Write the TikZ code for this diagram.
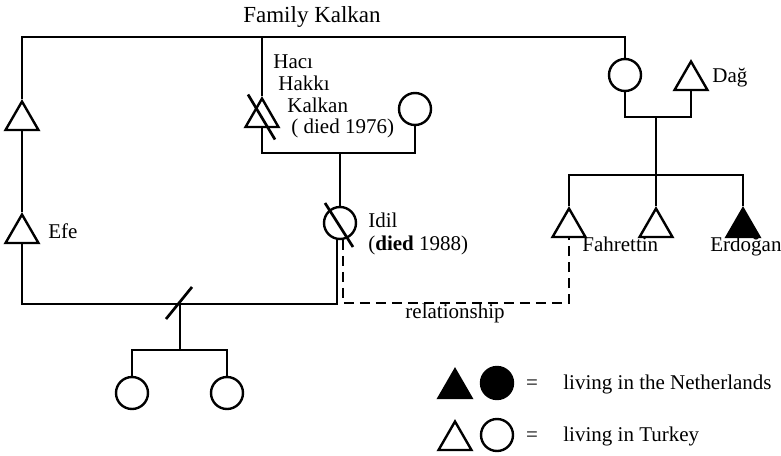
\documentclass[tikz,border=0pt]{standalone}
\usepackage{fontspec}
\setmainfont{Liberation Serif}
\usetikzlibrary{shapes.geometric}
\begin{document}
\begin{tikzpicture}[x=0.5pt,y=-0.5pt,font=\fontsize{10.5}{12.6}\selectfont]
    \tikzstyle{man}=[regular polygon, regular polygon sides=3, draw, minimum size=19pt, inner sep=0pt, line width=1.2pt]
    \tikzstyle{woman}=[circle, draw, minimum size=16pt, inner sep=0pt, line width=1.2pt]
    \tikzstyle{nl}=[fill=black]
    \tikzstyle{line}=[line width=1.35pt]
    \tikzstyle{lbl}=[anchor=base west, inner sep=0pt]

    \useasboundingbox (0,0) rectangle (781,455);

    % family members
    \node[man] (uncle) at (22,120.5) {};
    \node[man] (efe) at (22,233.5) {};
    \node[man] (haci) at (262,117.5) {};
    \node[woman] (hwife) at (415,109) {};
    \node[woman] (idil) at (340,223) {};
    \node[woman] (d1) at (132,393) {};
    \node[woman] (d2) at (227,393) {};
    \node[woman] (mother) at (625,75) {};
    \node[man] (dag) at (691,80.5) {};
    \node[man] (fahr) at (569,227.5) {};
    \node[man] (mid) at (656,227.5) {};
    \node[man, nl] (erd) at (743,227.5) {};

    \coordinate (famtop) at (625,37);
    \coordinate (div) at (180,304);
    \coordinate (sib) at (180,350);
    \coordinate (hm) at (340,153);
    \coordinate (rel) at (455,303);
    \coordinate (rmar) at (656,117);
    \coordinate (kids) at (656,175);

    % lines
    \draw[line] (uncle.corner 1) |- (famtop) -- (mother.north);
    \draw[line] (haci.corner 1) -- (haci.corner 1 |- famtop);
    \draw[line] (uncle.side 2) -- (efe.corner 1);
    \draw[line] (efe.side 2) |- (div) -| (idil.260);
    \draw[line] (div) -- (sib);
    \draw[line] ([shift={(-14,15)}]div) -- ([shift={(12,-17)}]div);
    \draw[line] (d1.north) |- (sib) -| (d2.north);
    \draw[line] (haci.side 2) |- (hm) -| (hwife.south);
    \draw[line] (hm) -- (idil.north);
    \draw[line] ([shift={(-14,-23)}]haci.center) -- ([shift={(13,22)}]haci.center);
    \draw[line] ([shift={(-15,-20)}]idil.center) -- ([shift={(13,24)}]idil.center);
    \draw[line, dash pattern=on 5pt off 3pt] (idil.280) |- (rel) -| (fahr.side 2);
    \draw[line] (mother.south) |- (rmar) -| (dag.side 2);
    \draw[line] (rmar) -- (kids) -- (mid.corner 1);
    \draw[line] (fahr.corner 1) |- (kids) -| (erd.corner 1);

    % labels
    \node[anchor=base, font=\fontsize{11.5}{13.8}\selectfont] (famlbl) at (312,23) {Family Kalkan};
    \node[lbl] (efelbl) at (48,238) {Efe};
    \node[lbl] (haci1) at (273,68) {Hacı};
    \node[lbl] (haci2) at (278,90) {Hakkı};
    \node[lbl] (haci3) at (287,112) {Kalkan};
    \node[lbl] (haci4) at (291,133) {( died 1976)};
    \node[lbl] (idillbl) at (368,227) {Idil};
    \node[lbl] (idildied) at (368,250) {(\textbf{died} 1988)};
    \node[lbl] (daglbl) at (712,82) {Dağ};
    \node[lbl] (fahrlbl) at (582,251) {Fahrettin};
    \node[lbl] (erdlbl) at (710,251) {Erdoğan};
    \node[anchor=base] (rellbl) at (455,318) {relationship};

    % legend
    \node[man, nl] (keym) at (455,388.5) {};
    \node[woman, nl] (keyw) at (497,383) {};
    \node[man] (keym2) at (455,440.5) {};
    \node[woman] (keyw2) at (497,435) {};
    \node (eq1) at (532,385) {=};
    \node (eq2) at (532,437) {=};
    \node[lbl] (nllbl) at (563,389) {living in the Netherlands};
    \node[lbl] (trlbl) at (563,441) {living in Turkey};
\end{tikzpicture}
\end{document}
